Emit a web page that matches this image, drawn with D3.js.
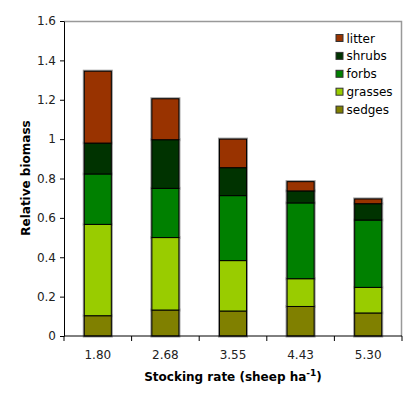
<!DOCTYPE html>
<html><head><meta charset="utf-8">
<script src="https://cdn.jsdelivr.net/npm/d3@7"></script>
<style>body{margin:0;background:#fff}svg text{font-family:"DejaVu Sans",Verdana,sans-serif}</style>
</head><body><svg id="c" width="418" height="397"></svg>
<script>
const categories = ["1.80","2.68","3.55","4.43","5.30"];
const seriesNames = ["sedges","grasses","forbs","shrubs","litter"];
const sedges  = [0.103,0.132,0.127,0.150,0.117];
const grasses = [0.464,0.368,0.256,0.141,0.130];
const forbs   = [0.256,0.250,0.330,0.385,0.342];
const shrubs  = [0.157,0.247,0.142,0.061,0.083];
const litter  = [0.365,0.208,0.145,0.047,0.024];
const colors  = ["#808000","#99cc00","#008000","#003300","#993300"];
const yTicks  = [0,0.2,0.4,0.6,0.8,1,1.2,1.4,1.6];

const rows = categories.map((c,i)=>({cat:c,sedges:sedges[i],grasses:grasses[i],forbs:forbs[i],shrubs:shrubs[i],litter:litter[i]}));
const stack = d3.stack().keys(seriesNames)(rows);

const svg = d3.select("#c");
const L=64,T=21,R=402,B=336;
const x = d3.scaleBand().domain(categories).range([L,R]).paddingInner(0.6).paddingOuter(0.3);
const y = d3.scaleLinear().domain([0,1.6]).range([B,T]);
const color = d3.scaleOrdinal().domain(seriesNames).range(colors);

// frame top/right gray
svg.append("path").attr("d",`M${L},${T+0.5}H${R-0.5}V${B}`).attr("fill","none").attr("stroke","#999").attr("stroke-width",1.5);

const g = svg.append("g");
stack.forEach(s=>{
  g.selectAll(null).data(s).join("rect")
    .attr("x",d=>x(d.data.cat)).attr("width",x.bandwidth())
    .attr("y",d=>y(d[1])).attr("height",d=>y(d[0])-y(d[1]))
    .attr("fill","none").attr("stroke","#999").attr("stroke-width",3);
});
stack.forEach(s=>{
  g.selectAll(null).data(s).join("rect")
    .attr("x",d=>x(d.data.cat)).attr("width",x.bandwidth())
    .attr("y",d=>y(d[1])).attr("height",d=>y(d[0])-y(d[1]))
    .attr("fill",color(s.key)).attr("stroke","#000").attr("stroke-width",1);
});

// y axis
const ya = svg.append("g").attr("transform",`translate(${L},0)`)
  .call(d3.axisLeft(y).tickValues(yTicks).tickSize(4).tickSizeOuter(0).tickFormat(d=>d3.format("")(d)));
ya.select(".domain").attr("stroke","#000");
ya.selectAll("text").attr("font-size",12).attr("fill","#222").attr("dx",-1).style("font-family","DejaVu Sans");

// x axis with ticks at category boundaries
const xa = svg.append("g").attr("transform",`translate(0,${B})`);
xa.append("line").attr("x1",L).attr("x2",R).attr("stroke","#000");
const step = x.step();
const bounds = d3.range(categories.length+1).map(i=>L+i*(R-L)/categories.length);
xa.selectAll(null).data(bounds).join("line").attr("x1",d=>d).attr("x2",d=>d).attr("y1",0).attr("y2",5).attr("stroke","#000");
xa.selectAll(null).data(categories).join("text")
  .attr("x",d=>x(d)+x.bandwidth()/2).attr("y",23).attr("text-anchor","middle")
  .attr("font-size",12).attr("fill","#222").text(d=>d);

// titles
const xt = svg.append("text").attr("x",233).attr("y",381).attr("text-anchor","middle")
  .attr("font-size",12).attr("font-weight","bold").attr("fill","#000");
xt.append("tspan").text("Stocking rate (sheep ha");
xt.append("tspan").attr("dy",-5).attr("font-size",9).text("-1");
xt.append("tspan").attr("dy",5).text(")");

svg.append("text").attr("transform","translate(30,178) rotate(-90)").attr("text-anchor","middle")
  .attr("font-size",12).attr("font-weight","bold").attr("fill","#000").text("Relative biomass");

// legend
const legendOrder = seriesNames.slice().reverse();
const lg = svg.append("g");
legendOrder.forEach((k,i)=>{
  const yy = 38 + i*17.9;
  lg.append("rect").attr("x",336).attr("y",yy-3.5).attr("width",7).attr("height",7)
    .attr("fill",color(k)).attr("stroke","#333").attr("stroke-width",1);
  lg.append("text").attr("x",346.5).attr("y",yy+4.5).attr("font-size",12).attr("fill","#000").text(k);
});
</script></body></html>
